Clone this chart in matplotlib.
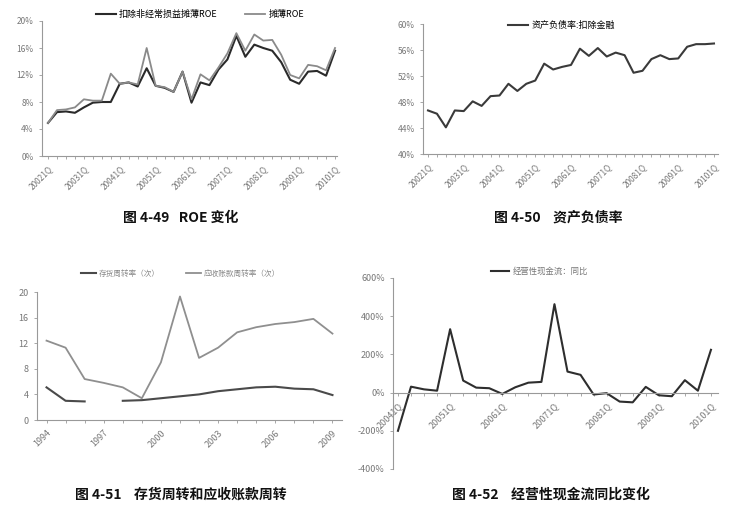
import matplotlib
matplotlib.use("Agg")
import matplotlib.pyplot as plt
from matplotlib.ticker import FuncFormatter, MultipleLocator
import numpy as np

plt.rcParams['font.family'] = ['Noto Sans CJK SC', 'DejaVu Sans']

# ---------------- data ----------------
quarters_02_10 = [f"{y}{q}Q" for y in range(2002, 2011) for q in range(1, 5)][:33]
roe_excl = [4.9, 6.5, 6.6, 6.4, 7.2, 7.9, 8.0, 8.0, 10.7, 10.9, 10.3, 13.0, 10.4, 10.1, 9.5, 12.5,
            7.9, 10.9, 10.5, 12.8, 14.3, 17.8, 14.7, 16.5, 16.0, 15.6, 13.9, 11.3, 10.7, 12.5, 12.6, 11.9, 15.6]
roe_diluted = [4.9, 6.8, 6.9, 7.2, 8.4, 8.2, 8.2, 12.2, 10.7, 10.9, 10.6, 16.0, 10.4, 10.2, 9.5, 12.5,
               8.4, 12.1, 11.2, 13.1, 15.2, 18.2, 15.6, 18.0, 17.1, 17.2, 15.0, 12.0, 11.5, 13.5, 13.3, 12.7, 16.0]

debt_ratio = [46.7, 46.2, 44.1, 46.7, 46.6, 48.1, 47.4, 48.9, 49.0, 50.8, 49.7, 50.8, 51.3, 53.9, 53.0, 53.4,
              53.7, 56.2, 55.1, 56.3, 55.0, 55.6, 55.2, 52.5, 52.8, 54.6, 55.2, 54.6, 54.7, 56.5, 56.9, 56.9, 57.0]

years = list(range(1994, 2010))
inventory_turn = [5.1, 3.0, 2.9, np.nan, 3.0, 3.1, 3.4, 3.7, 4.0, 4.5, 4.8, 5.1, 5.2, 4.9, 4.8, 3.9]
receivable_turn = [12.4, 11.3, 6.4, 5.8, 5.1, 3.4, 9.0, 19.3, 9.7, 11.3, 13.7, 14.5, 15.0, 15.3, 15.8, 13.5]

quarters_04_10 = [f"{y}{q}Q" for y in range(2004, 2011) for q in range(1, 5)][:25]
ocf_yoy = [-200, 31, 17, 10, 332, 63, 26, 23, -7, 28, 52, 56, 463, 110, 93, -10, -3, -47, -51, 30,
           -14, -19, 65, 10, 224]

legend1 = ["扣除非经常损益摊薄ROE", "摊薄ROE"]
legend2 = "资产负债率:扣除金融"
legend3 = ["存货周转率（次）", "应收账款周转率（次）"]
legend4 = "经营性现金流：同比"
captions = ["图 4-49   ROE 变化", "图 4-50    资产负债率", "图 4-51    存货周转和应收账款周转",
            "图 4-52    经营性现金流同比变化"]

W, H = 737, 527
fig = plt.figure(figsize=(W / 100, H / 100), dpi=100)
fig.patch.set_facecolor("white")

TICKC = "#777777"
SPINEC = "#999999"


def rect(l, t, r, b):
    return [l / W, 1 - b / H, (r - l) / W, (b - t) / H]


def style(ax, fs=6):
    for s in ["top", "right"]:
        ax.spines[s].set_visible(False)
    for s in ["left", "bottom"]:
        ax.spines[s].set_color(SPINEC)
        ax.spines[s].set_linewidth(0.8)
    ax.tick_params(axis="both", colors=SPINEC, labelcolor=TICKC, labelsize=fs, length=2.5, width=0.6)
    ax.tick_params(axis="x", which="minor", colors=SPINEC, length=2, width=0.6)


def qaxis(ax, labels):
    n = len(labels)
    x = np.arange(n)
    ax.set_xticks(x[::4])
    ax.set_xticklabels(labels[::4], rotation=45, ha="right", rotation_mode="anchor")
    ax.set_xticks(x, minor=True)
    return x


# ---------- Panel 1 ----------
ax1 = fig.add_axes(rect(42, 21, 337, 156))
style(ax1)
x = qaxis(ax1, quarters_02_10)
ax1.plot(x, roe_excl, color="#2a2a2a", lw=1.5, label=legend1[0])
ax1.plot(x, roe_diluted, color="#8a8a8a", lw=1.3, label=legend1[1])
ax1.set_xlim(-0.67, 32.22)
ax1.set_ylim(0, 20)
ax1.yaxis.set_major_locator(MultipleLocator(4))
ax1.yaxis.set_major_formatter(FuncFormatter(lambda v, p: f"{v:.0f}%"))
ax1.legend(loc="center", bbox_to_anchor=(0.535, 1.05), ncol=2, frameon=False, fontsize=6.5,
           handlelength=2.2, columnspacing=3.0, handletextpad=0.4, borderaxespad=0)

# ---------- Panel 2 ----------
ax2 = fig.add_axes(rect(423, 24, 718, 154))
style(ax2)
x = qaxis(ax2, quarters_02_10)
ax2.plot(x, debt_ratio, color="#3a3a3a", lw=1.5, label=legend2)
ax2.set_xlim(-0.56, 32.45)
ax2.set_ylim(40, 60)
ax2.yaxis.set_major_locator(MultipleLocator(4))
ax2.yaxis.set_major_formatter(FuncFormatter(lambda v, p: f"{v:.0f}%"))
ax2.legend(loc="center", bbox_to_anchor=(0.47, 0.99), frameon=False, fontsize=6.5,
           handlelength=2.2, handletextpad=0.4, borderaxespad=0)

# ---------- Panel 3 ----------
ax3 = fig.add_axes(rect(37, 292, 342, 420))
style(ax3, fs=6.5)
ax3.plot(years, inventory_turn, color="#4a4a4a", lw=1.5, label=legend3[0])
ax3.plot(years, receivable_turn, color="#8f8f8f", lw=1.3, label=legend3[1])
ax3.set_xlim(1993.5, 2009.5)
ax3.set_ylim(0, 20)
ax3.yaxis.set_major_locator(MultipleLocator(4))
ax3.set_xticks(years[::3])
ax3.set_xticklabels([str(y) for y in years[::3]], rotation=45, ha="right", rotation_mode="anchor")
ax3.set_xticks(years, minor=True)
leg3 = ax3.legend(loc="center", bbox_to_anchor=(0.47, 1.14), ncol=2, frameon=False, fontsize=5.5,
                  handlelength=2.0, columnspacing=3.5, handletextpad=0.3, borderaxespad=0)
for t in leg3.get_texts():
    t.set_color("#888888")

# ---------- Panel 4 ----------
ax4 = fig.add_axes(rect(393, 278, 718, 469))
ax4.spines["bottom"].set_position(("data", 0))
style(ax4, fs=6.5)
x = qaxis(ax4, quarters_04_10)
ax4.plot(x, ocf_yoy, color="#2e2e2e", lw=1.5, label=legend4)
ax4.set_xlim(-0.38, 24.54)
ax4.set_ylim(-400, 600)
ax4.yaxis.set_major_locator(MultipleLocator(200))
ax4.yaxis.set_major_formatter(FuncFormatter(lambda v, p: f"{v:.0f}%"))
leg4 = ax4.legend(loc="center", bbox_to_anchor=(0.45, 1.037), frameon=False, fontsize=6,
                  handlelength=2.2, handletextpad=0.4, borderaxespad=0)
for t in leg4.get_texts():
    t.set_color("#777777")

# ---------- captions ----------
cap_pos = [(181, 218), (558, 218), (181, 495), (551, 495)]
for (cx, cy), c in zip(cap_pos, captions):
    fig.text(cx / W, 1 - cy / H, c, ha="center", va="center", fontsize=10, color="#111111",
             fontweight="bold")

fig.savefig("out.png", dpi=100)
